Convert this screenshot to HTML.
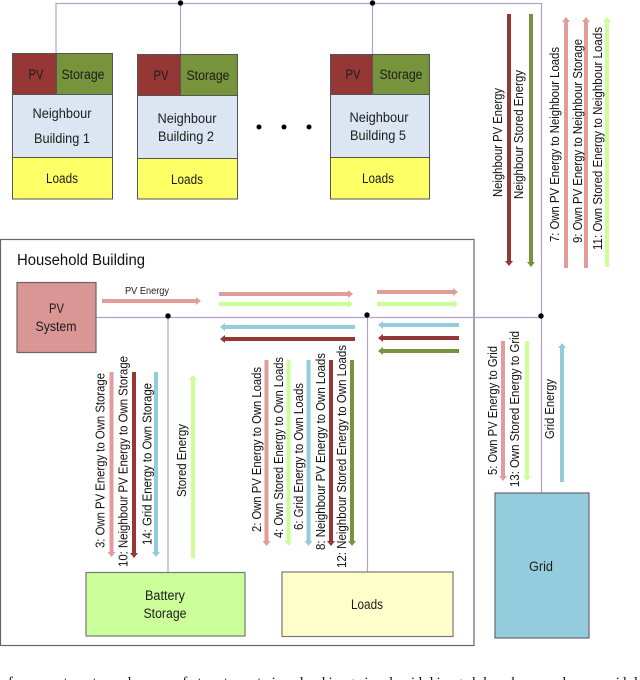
<!DOCTYPE html>
<html>
<head>
<meta charset="utf-8">
<style>
html,body{margin:0;padding:0;background:#fff;overflow:hidden;}
svg{display:block;filter:blur(0.35px);}
text{font-family:"Liberation Sans",sans-serif;fill:#1c1c1c;}
.c{text-anchor:middle;font-size:13.5px;}
.v{font-size:12.5px;fill:#111;}
.a{stroke-width:4;fill:none;}
.b{stroke:#555;stroke-width:1;}
.l{stroke:#b3a2c7;stroke-width:1.2;fill:none;}
</style>
</head>
<body>
<svg width="640" height="680" viewBox="0 0 640 680" xmlns="http://www.w3.org/2000/svg">
<defs>
<marker id="mp" markerUnits="userSpaceOnUse" markerWidth="6" markerHeight="10" refX="1" refY="5" orient="auto"><path d="M0 1L5 5L0 9Z" fill="#e29c9c"/></marker>
<marker id="mr" markerUnits="userSpaceOnUse" markerWidth="6" markerHeight="10" refX="1" refY="5" orient="auto"><path d="M0 1L5 5L0 9Z" fill="#953735"/></marker>
<marker id="mo" markerUnits="userSpaceOnUse" markerWidth="6" markerHeight="10" refX="1" refY="5" orient="auto"><path d="M0 1L5 5L0 9Z" fill="#77933c"/></marker>
<marker id="mg" markerUnits="userSpaceOnUse" markerWidth="6" markerHeight="10" refX="1" refY="5" orient="auto"><path d="M0 1L5 5L0 9Z" fill="#ccff99"/></marker>
<marker id="mb" markerUnits="userSpaceOnUse" markerWidth="6" markerHeight="10" refX="1" refY="5" orient="auto"><path d="M0 1L5 5L0 9Z" fill="#92cddc"/></marker>
</defs>

<!-- household frame -->
<rect x="0.5" y="239.5" width="473.5" height="406" fill="#fff" stroke="#666" stroke-width="1.2"/>
<text x="17" y="265" font-size="15.5" textLength="128" lengthAdjust="spacingAndGlyphs" style="fill:#111">Household Building</text>

<!-- bus lines -->
<path class="l" d="M56 53V3.5H541.5V493"/>
<path class="l" d="M180.500 3.500V54M372.500 3.500V54"/>
<path class="l" d="M96 317.500H541.500M168 316V572M367.500 315V572"/>
<circle cx="180.500" cy="3" r="2.700" fill="#000"/>
<circle cx="372.500" cy="3" r="2.700" fill="#000"/>
<circle cx="168" cy="316" r="2.700" fill="#000"/>
<circle cx="367" cy="315" r="2.700" fill="#000"/>
<circle cx="541" cy="316" r="2.700" fill="#000"/>

<!-- building 1 -->
<rect class="b" x="12.500" y="53.500" width="44" height="41" fill="#953735"/>
<rect class="b" x="56.500" y="53.500" width="56" height="41" fill="#77933c"/>
<rect class="b" x="12.500" y="94.500" width="100" height="63" fill="#dce6f2"/>
<rect class="b" x="12.500" y="157.500" width="100" height="41.500" fill="#ffff66"/>
<text class="c" x="36" y="79" textLength="15" lengthAdjust="spacingAndGlyphs">PV</text>
<text class="c" x="83" y="79" textLength="43" lengthAdjust="spacingAndGlyphs">Storage</text>
<text class="c" x="62" y="118" textLength="59" lengthAdjust="spacingAndGlyphs">Neighbour</text>
<text class="c" x="62" y="143" textLength="56" lengthAdjust="spacingAndGlyphs">Building 1</text>
<text class="c" x="62" y="183" textLength="32" lengthAdjust="spacingAndGlyphs">Loads</text>

<!-- building 2 -->
<rect class="b" x="137.500" y="54.500" width="43" height="41" fill="#953735"/>
<rect class="b" x="180.500" y="54.500" width="57" height="41" fill="#77933c"/>
<rect class="b" x="137.500" y="95.500" width="100" height="63" fill="#dce6f2"/>
<rect class="b" x="137.500" y="158.500" width="100" height="40.500" fill="#ffff66"/>
<text class="c" x="161" y="80" textLength="15" lengthAdjust="spacingAndGlyphs">PV</text>
<text class="c" x="208" y="80" textLength="43" lengthAdjust="spacingAndGlyphs">Storage</text>
<text class="c" x="187" y="123" textLength="59" lengthAdjust="spacingAndGlyphs">Neighbour</text>
<text class="c" x="186" y="141" textLength="56" lengthAdjust="spacingAndGlyphs">Building 2</text>
<text class="c" x="187" y="184" textLength="32" lengthAdjust="spacingAndGlyphs">Loads</text>

<!-- dots -->
<circle cx="259" cy="127" r="2.500" fill="#000"/>
<circle cx="284" cy="127" r="2.500" fill="#000"/>
<circle cx="309" cy="127" r="2.500" fill="#000"/>

<!-- building 5 -->
<rect class="b" x="330.500" y="54.500" width="42" height="40" fill="#953735"/>
<rect class="b" x="372.500" y="54.500" width="57" height="40" fill="#77933c"/>
<rect class="b" x="330.500" y="94.500" width="99" height="63" fill="#dce6f2"/>
<rect class="b" x="330.500" y="157.500" width="99" height="41.500" fill="#ffff66"/>
<text class="c" x="353" y="79" textLength="15" lengthAdjust="spacingAndGlyphs">PV</text>
<text class="c" x="401" y="79" textLength="43" lengthAdjust="spacingAndGlyphs">Storage</text>
<text class="c" x="379" y="122" textLength="59" lengthAdjust="spacingAndGlyphs">Neighbour</text>
<text class="c" x="378" y="140" textLength="56" lengthAdjust="spacingAndGlyphs">Building 5</text>
<text class="c" x="378" y="183" textLength="32" lengthAdjust="spacingAndGlyphs">Loads</text>

<!-- PV system -->
<rect x="17" y="282.500" width="79" height="70" fill="#d99694" stroke="#666" stroke-width="1.200"/>
<text class="c" x="56.500" y="313" textLength="15" lengthAdjust="spacingAndGlyphs">PV</text>
<text class="c" x="56" y="331" textLength="41" lengthAdjust="spacingAndGlyphs">System</text>
<text x="125" y="294" font-size="10.500" textLength="44" lengthAdjust="spacingAndGlyphs">PV Energy</text>

<!-- battery, loads, grid -->
<rect x="86" y="572.500" width="159" height="63.500" fill="#ccff99" stroke="#777" stroke-width="1.200"/>
<text class="c" x="165" y="600" textLength="40" lengthAdjust="spacingAndGlyphs">Battery</text>
<text class="c" x="165" y="618" textLength="43" lengthAdjust="spacingAndGlyphs">Storage</text>
<rect x="282" y="572" width="171" height="64.500" fill="#ffffcc" stroke="#777" stroke-width="1.200"/>
<text class="c" x="367" y="609" textLength="32" lengthAdjust="spacingAndGlyphs">Loads</text>
<rect x="495" y="493" width="94" height="145" fill="#93cddd" stroke="#667" stroke-width="1.200"/>
<text class="c" x="541" y="571" textLength="24" lengthAdjust="spacingAndGlyphs">Grid</text>

<!-- top right arrows -->
<line class="a" x1="509" y1="14" x2="509" y2="262" stroke="#953735" marker-end="url(#mr)"/>
<line class="a" x1="531" y1="14" x2="531" y2="263" stroke="#77933c" marker-end="url(#mo)"/>
<line class="a" x1="566" y1="268" x2="566" y2="21" stroke="#e29c9c" marker-end="url(#mp)"/>
<line class="a" x1="586" y1="268" x2="586" y2="21" stroke="#e29c9c" marker-end="url(#mp)"/>
<line class="a" x1="607" y1="267" x2="607" y2="21" stroke="#ccff99" marker-end="url(#mg)"/>

<!-- horizontal arrows -->
<line class="a" x1="102" y1="301" x2="197" y2="301" stroke="#e29c9c" marker-end="url(#mp)"/>
<line class="a" x1="219" y1="294" x2="349" y2="294" stroke="#e29c9c" marker-end="url(#mp)"/>
<line class="a" x1="219" y1="304" x2="349" y2="304" stroke="#ccff99" marker-end="url(#mg)"/>
<line class="a" x1="355" y1="327" x2="224" y2="327" stroke="#92cddc" marker-end="url(#mb)"/>
<line class="a" x1="355" y1="339" x2="224" y2="339" stroke="#953735" marker-end="url(#mr)"/>
<line class="a" x1="377" y1="292" x2="454" y2="292" stroke="#e29c9c" marker-end="url(#mp)"/>
<line class="a" x1="377" y1="304" x2="454" y2="304" stroke="#ccff99" marker-end="url(#mg)"/>
<line class="a" x1="459" y1="325" x2="382" y2="325" stroke="#92cddc" marker-end="url(#mb)"/>
<line class="a" x1="459" y1="338" x2="382" y2="338" stroke="#953735" marker-end="url(#mr)"/>
<line class="a" x1="459" y1="351" x2="382" y2="351" stroke="#77933c" marker-end="url(#mo)"/>

<!-- storage arrows -->
<line class="a" x1="111.500" y1="372" x2="111.500" y2="553" stroke="#e29c9c" marker-end="url(#mp)"/>
<line class="a" x1="134" y1="372" x2="134" y2="554" stroke="#953735" marker-end="url(#mr)"/>
<line class="a" x1="156" y1="372" x2="156" y2="553" stroke="#92cddc" marker-end="url(#mb)"/>
<line class="a" x1="193" y1="558" x2="193" y2="379" stroke="#ccff99" marker-end="url(#mg)"/>

<!-- loads arrows -->
<line class="a" x1="266.500" y1="360" x2="266.500" y2="542" stroke="#e29c9c" marker-end="url(#mp)"/>
<line class="a" x1="288.500" y1="360" x2="288.500" y2="542" stroke="#ccff99" marker-end="url(#mg)"/>
<line class="a" x1="308.500" y1="360" x2="308.500" y2="542" stroke="#92cddc" marker-end="url(#mb)"/>
<line class="a" x1="331" y1="360" x2="331" y2="542" stroke="#953735" marker-end="url(#mr)"/>
<line class="a" x1="352" y1="360" x2="352" y2="542" stroke="#77933c" marker-end="url(#mo)"/>

<!-- grid arrows -->
<line class="a" x1="503" y1="341" x2="503" y2="477" stroke="#e29c9c" marker-end="url(#mp)"/>
<line class="a" x1="527" y1="341" x2="527" y2="477" stroke="#ccff99" marker-end="url(#mg)"/>
<line class="a" x1="562" y1="482" x2="562" y2="347" stroke="#92cddc" marker-end="url(#mb)"/>

<!-- rotated labels -->
<text class="v" transform="translate(502,197) rotate(-90)" textLength="109" lengthAdjust="spacingAndGlyphs">Neighbour PV Energy</text>
<text class="v" transform="translate(523,199) rotate(-90)" textLength="129" lengthAdjust="spacingAndGlyphs">Neighbour Stored Energy</text>
<text class="v" transform="translate(559,242) rotate(-90)" textLength="195" lengthAdjust="spacingAndGlyphs">7: Own PV Energy to Neighbour Loads</text>
<text class="v" transform="translate(582,243) rotate(-90)" textLength="204" lengthAdjust="spacingAndGlyphs">9: Own PV Energy to Neighbour Storage</text>
<text class="v" transform="translate(602,250) rotate(-90)" textLength="223" lengthAdjust="spacingAndGlyphs">11: Own Stored Energy to Neighbour Loads</text>

<text class="v" transform="translate(104.500,548) rotate(-90)" textLength="175" lengthAdjust="spacingAndGlyphs">3: Own PV Energy to Own Storage</text>
<text class="v" transform="translate(127.500,567) rotate(-90)" textLength="211" lengthAdjust="spacingAndGlyphs">10: Neighbour PV Energy to Own Storage</text>
<text class="v" transform="translate(151.500,545) rotate(-90)" textLength="162" lengthAdjust="spacingAndGlyphs">14: Grid Energy to Own Storage</text>
<text class="v" transform="translate(186,497) rotate(-90)" textLength="73" lengthAdjust="spacingAndGlyphs">Stored Energy</text>

<text class="v" transform="translate(261,532) rotate(-90)" textLength="165" lengthAdjust="spacingAndGlyphs">2: Own PV Energy to Own Loads</text>
<text class="v" transform="translate(283,538) rotate(-90)" textLength="181" lengthAdjust="spacingAndGlyphs">4: Own Stored  Energy to Own Loads</text>
<text class="v" transform="translate(303,530) rotate(-90)" textLength="147" lengthAdjust="spacingAndGlyphs">6: Grid Energy to Own Loads</text>
<text class="v" transform="translate(325,550) rotate(-90)" textLength="197" lengthAdjust="spacingAndGlyphs">8: Neighbour PV Energy to Own Loads</text>
<text class="v" transform="translate(346,568) rotate(-90)" textLength="223" lengthAdjust="spacingAndGlyphs">12: Neighbour Stored Energy to Own Loads</text>

<text class="v" transform="translate(497,475) rotate(-90)" textLength="129" lengthAdjust="spacingAndGlyphs">5: Own PV Energy to Grid</text>
<text class="v" transform="translate(519,487) rotate(-90)" textLength="156" lengthAdjust="spacingAndGlyphs">13: Own Stored Energy to Grid</text>
<text class="v" transform="translate(554,439) rotate(-90)" textLength="60" lengthAdjust="spacingAndGlyphs">Grid Energy</text>

<!-- clipped caption line at the bottom edge -->
<text x="8" y="687" font-size="15" textLength="640" lengthAdjust="spacing" style="font-family:'Liberation Serif',serif;fill:#111">for output values of test set including in building blocks and possible</text>
</svg>
</body>
</html>
